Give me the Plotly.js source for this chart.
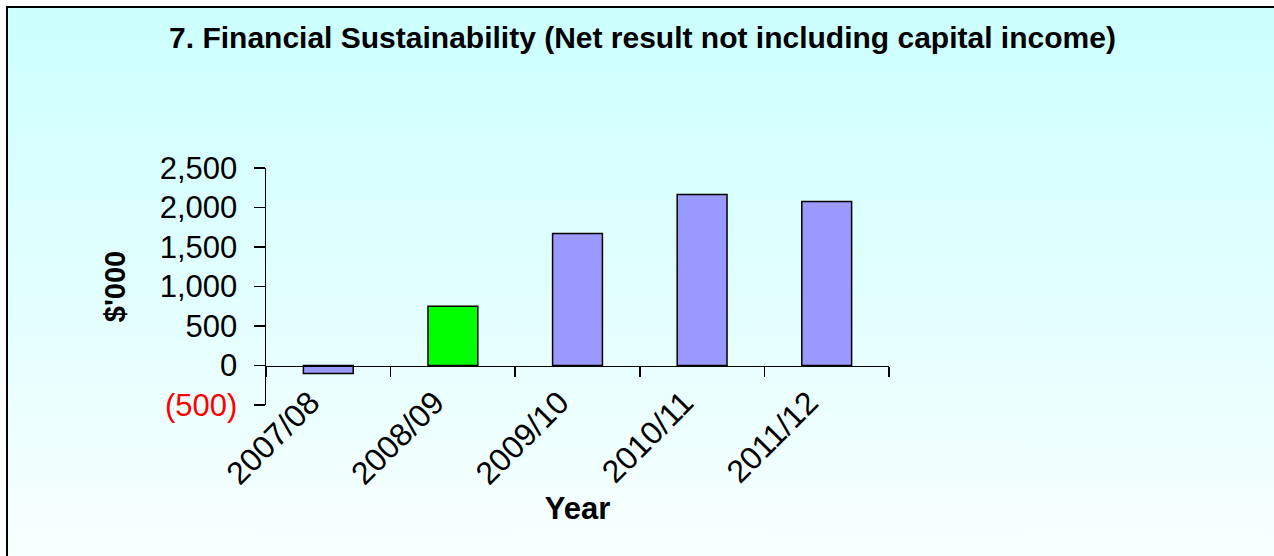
<!DOCTYPE html>
<html>
<head>
<meta charset="utf-8">
<script src="https://cdn.plot.ly/plotly-3.0.1.min.js"></script>
<style>
  html, body { margin: 0; padding: 0; }
  #wrap { position: relative; width: 1274px; height: 556px; overflow: hidden; background: #ffffff; }
  #frame { position: absolute; left: 6px; top: 6px; width: 1320px; height: 600px;
           border-top: 2px solid #000; border-left: 2px solid #000;
           background: linear-gradient(to bottom, #CCFFFF 0%, #E6FFFF 55%, #F8FFFF 90%, #FFFFFF 100%); }
  #chart { position: absolute; left: 0; top: 0; width: 1274px; height: 556px; }
</style>
</head>
<body>
<div id="wrap">
  <div id="frame"></div>
  <div id="chart"></div>
</div>
<script>
// ---- data ----
const years = ['2007/08', '2008/09', '2009/10', '2010/11', '2011/12'];
const netResult = [-100, 750, 1670, 2165, 2075];
const highlightYear = '2008/09';
const yTickValues = [-500, 0, 500, 1000, 1500, 2000, 2500];
const yTickLabels = ['(500)', '0', '500', '1,000', '1,500', '2,000', '2,500'];
const chartTitle = '7. Financial Sustainability (Net result not including capital income)';
const xTitle = 'Year';
const yTitle = "$'000";

// ---- build ----
const yRange = [-500, 2500];
const barColors = years.map(y => y === highlightYear ? '#00FF00' : '#9999FF');
const tickText = yTickValues.map((v, i) => v < 0 ? '<span style="fill:#FF0000">' + yTickLabels[i] + '</span>' : yTickLabels[i]);

const font = 'Liberation Sans, Arial, sans-serif';

const trace = {
  type: 'bar',
  x: years,
  y: netResult,
  marker: { color: barColors, line: { color: '#000000', width: 1.5 } },
  hoverinfo: 'x+y'
};

const layout = {
  width: 1274,
  height: 556,
  paper_bgcolor: 'rgba(0,0,0,0)',
  plot_bgcolor: 'rgba(0,0,0,0)',
  margin: { l: 266, r: 385, t: 168, b: 151, pad: 0 },
  showlegend: false,
  bargap: 0.6,
  font: { family: font, color: '#000000' },
  title: {
    text: '<b>' + chartTitle + '</b>',
    font: { family: font, size: 30, color: '#000000' },
    xref: 'container', yref: 'container',
    x: 0.5043, y: 0.933, xanchor: 'center', yanchor: 'middle'
  },
  xaxis: {
    type: 'category',
    range: [-0.5, years.length - 0.5],
    anchor: 'free',
    position: (0 - yRange[0]) / (yRange[1] - yRange[0]),
    showline: true, linecolor: '#000000', linewidth: 1.5,
    ticks: 'outside', tickson: 'boundaries', ticklen: 10, tickwidth: 1.5, tickcolor: '#000000',
    tickangle: -45,
    ticklabelshift: -18,
    ticklabelstandoff: 4,
    tickfont: { family: font, size: 32, color: '#000000' },
    showgrid: false, zeroline: false,
    title: { text: '<b>' + xTitle + '</b>', font: { family: font, size: 31, color: '#000000' }, standoff: 0 }
  },
  yaxis: {
    range: yRange,
    tickvals: yTickValues,
    ticktext: tickText,
    showline: true, linecolor: '#000000', linewidth: 1.5,
    ticks: 'outside', ticklen: 11, tickwidth: 1.5, tickcolor: '#000000',
    ticklabelstandoff: 10,
    tickfont: { family: font, size: 31, color: '#000000' },
    showgrid: false, zeroline: false,
    title: { text: '<b>' + yTitle + '</b>', font: { family: font, size: 29, color: '#000000' }, standoff: 25 }
  }
};

Plotly.newPlot('chart', [trace], layout, { displayModeBar: false, staticPlot: true });
</script>
</body>
</html>
